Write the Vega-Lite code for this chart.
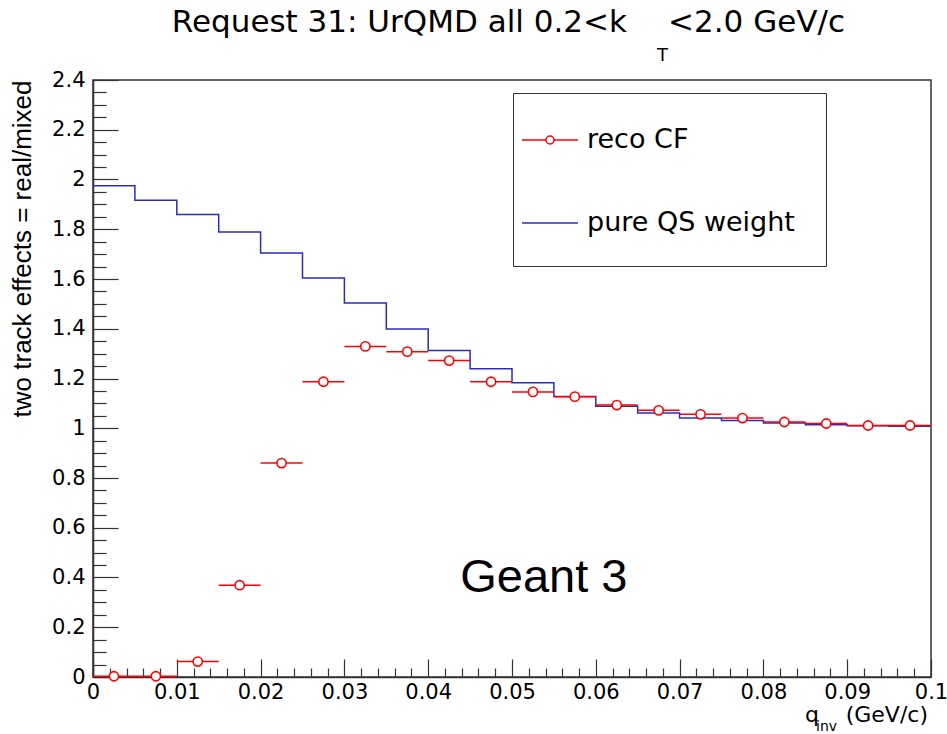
{
  "$schema": "https://vega.github.io/schema/vega-lite/v6.json",
  "width": 838,
  "height": 597,
  "autosize": "none",
  "padding": {"left": 93, "top": 80, "right": 16, "bottom": 57},
  "background": "white",
  "config": {"view": {"stroke": "#333", "strokeWidth": 1.5}, "font": "DejaVu Sans"},
  "data": {"values": [{}]},
  "datasets": {
    "qs": [
      {"q": 0, "v": 1.975}, {"q": 0.005, "v": 1.917}, {"q": 0.01, "v": 1.859}, {"q": 0.015, "v": 1.789},
      {"q": 0.02, "v": 1.705}, {"q": 0.025, "v": 1.604}, {"q": 0.03, "v": 1.504}, {"q": 0.035, "v": 1.399},
      {"q": 0.04, "v": 1.313}, {"q": 0.045, "v": 1.239}, {"q": 0.05, "v": 1.183}, {"q": 0.055, "v": 1.128},
      {"q": 0.06, "v": 1.088}, {"q": 0.065, "v": 1.061}, {"q": 0.07, "v": 1.041}, {"q": 0.075, "v": 1.031},
      {"q": 0.08, "v": 1.021}, {"q": 0.085, "v": 1.014}, {"q": 0.09, "v": 1.01}, {"q": 0.095, "v": 1.008},
      {"q": 0.1, "v": 1.008}
    ],
    "reco": [
      {"q": 0.0025, "v": 0.003, "ex": 0.0025}, {"q": 0.0075, "v": 0.003, "ex": 0.0025},
      {"q": 0.0125, "v": 0.062, "ex": 0.0025}, {"q": 0.0175, "v": 0.369, "ex": 0.0025},
      {"q": 0.0225, "v": 0.86, "ex": 0.0025}, {"q": 0.0275, "v": 1.187, "ex": 0.0025},
      {"q": 0.0325, "v": 1.329, "ex": 0.0025}, {"q": 0.0375, "v": 1.308, "ex": 0.0025},
      {"q": 0.0425, "v": 1.272, "ex": 0.0025}, {"q": 0.0475, "v": 1.187, "ex": 0.0025},
      {"q": 0.0525, "v": 1.146, "ex": 0.0025}, {"q": 0.0575, "v": 1.127, "ex": 0.0025},
      {"q": 0.0625, "v": 1.093, "ex": 0.0025}, {"q": 0.0675, "v": 1.072, "ex": 0.0025},
      {"q": 0.0725, "v": 1.056, "ex": 0.0025}, {"q": 0.0775, "v": 1.041, "ex": 0.0025},
      {"q": 0.0825, "v": 1.025, "ex": 0.0025}, {"q": 0.0875, "v": 1.019, "ex": 0.0025},
      {"q": 0.0925, "v": 1.011, "ex": 0.0025}, {"q": 0.0975, "v": 1.011, "ex": 0.0025}
    ]
  },
  "resolve": {"axis": {"x": "independent", "y": "independent"}},
  "layer": [
    {
      "data": {"name": "qs"},
      "mark": {"type": "line", "interpolate": "step-after", "strokeWidth": 1.5},
      "encoding": {
        "x": {
          "field": "q", "type": "quantitative",
          "scale": {"domain": [0, 0.1], "nice": false, "zero": false},
          "axis": {
            "orient": "bottom",
            "values": [0,0.01,0.02,0.03,0.04,0.05,0.06,0.07,0.08,0.09,0.1],
            "format": "~g",
            "ticks": false, "tickSize": 0,
            "labelFont": "DejaVu Sans", "labelFontSize": 21, "labelColor": "black", "labelPadding": 4,
            "labelOverlap": false, "labelFlush": false, "labelBound": false,
            "title": null, "grid": false,
            "domainColor": "#333", "domainWidth": 1.5
          }
        },
        "y": {
          "field": "v", "type": "quantitative",
          "scale": {"domain": [0, 2.4], "nice": false, "zero": false},
          "axis": {
            "orient": "left",
            "values": [0,0.2,0.4,0.6,0.8,1,1.2,1.4,1.6,1.8,2,2.2,2.4],
            "format": "~g",
            "ticks": false, "tickSize": 0,
            "labelFont": "DejaVu Sans", "labelFontSize": 21, "labelColor": "black", "labelPadding": 8,
            "labelOverlap": false, "labelFlush": false, "labelBound": false,
            "title": "two track effects = real/mixed",
            "titleFont": "Liberation Sans", "titleFontSize": 26, "titleFontWeight": "normal", "titleColor": "black",
            "titleX": -71, "titleY": 0, "titleAngle": 270, "titleAlign": "right", "titleBaseline": "middle",
            "grid": false,
            "domainColor": "#333", "domainWidth": 1.5
          }
        },
        "color": {
          "datum": "pure QS weight", "type": "nominal",
          "scale": {"domain": ["reco CF", "pure QS weight"], "range": ["#ff0000", "#2b2bc0"]},
          "legend": {
            "orient": "none", "legendX": 420, "legendY": 13, "title": null,
            "padding": 11, "symbolSize": 4970, "symbolStrokeWidth": 1.5, "symbolOffset": -10,
            "labelOffset": 1, "rowPadding": 7, "labelLimit": 400,
            "labelFont": "DejaVu Sans", "labelFontSize": 27, "labelColor": "black",
            "strokeColor": "#333", "fillColor": "white",
            "encode": {
              "symbols": {
                "update": {
                  "shape": {"signal": "datum.value === 'reco CF' ? 'M0,-1.142M0,0.8M7.43,0M-0.794,0H-0.113M0.113,0H0.794M0.113,0A0.113,0.113,0,1,1,-0.113,0A0.113,0.113,0,1,1,0.113,0' : 'M0,-1.142M0,0.8M7.43,0M-0.794,0H0.794'"},
                  "fill": {"value": "transparent"},
                  "stroke": {"signal": "datum.value === 'reco CF' ? '#ff0000' : '#2b2bc0'"},
                  "strokeWidth": {"value": 1.5}
                }
              }
            }
          }
        }
      }
    },
    {
      "data": {"name": "reco"},
      "mark": {"type": "errorbar", "ticks": false, "thickness": 1.5},
      "encoding": {
        "x": {
          "field": "q", "type": "quantitative",
          "axis": {
            "orient": "top", "offset": -597,
            "values": [0,0.002,0.004,0.006,0.008,0.012,0.014,0.016,0.018,0.022,0.024,0.026,0.028,0.032,0.034,0.036,0.038,0.042,0.044,0.046,0.048,0.052,0.054,0.056,0.058,0.062,0.064,0.066,0.068,0.072,0.074,0.076,0.078,0.082,0.084,0.086,0.088,0.092,0.094,0.096,0.098],
            "tickSize": 9, "labels": false, "domain": false, "title": null, "grid": false,
            "tickColor": "#333", "tickWidth": 1.2
          }
        },
        "xError": {"field": "ex"},
        "y": {
          "field": "v", "type": "quantitative",
          "axis": {
            "orient": "right", "offset": -838,
            "values": [0.05,0.1,0.15,0.25,0.3,0.35,0.45,0.5,0.55,0.65,0.7,0.75,0.85,0.9,0.95,1.05,1.1,1.15,1.25,1.3,1.35,1.45,1.5,1.55,1.65,1.7,1.75,1.85,1.9,1.95,2.05,2.1,2.15,2.25,2.3,2.35],
            "tickSize": 13, "labels": false, "domain": false, "title": null, "grid": false,
            "tickColor": "#333", "tickWidth": 1.2
          }
        },
        "color": {"datum": "reco CF", "type": "nominal"}
      }
    },
    {
      "data": {"name": "reco"},
      "mark": {"type": "point", "shape": "circle", "size": 85, "strokeWidth": 1.6, "filled": false, "fill": "white", "fillOpacity": 1, "opacity": 1},
      "encoding": {
        "x": {
          "field": "q", "type": "quantitative",
          "axis": {
            "orient": "top", "offset": -597,
            "values": [0,0.01,0.02,0.03,0.04,0.05,0.06,0.07,0.08,0.09,0.1],
            "tickSize": 18, "labels": false, "domain": false, "title": null, "grid": false,
            "tickColor": "#333", "tickWidth": 1.2
          }
        },
        "y": {
          "field": "v", "type": "quantitative",
          "axis": {
            "orient": "right", "offset": -838,
            "values": [0,0.2,0.4,0.6,0.8,1,1.2,1.4,1.6,1.8,2,2.2,2.4],
            "tickSize": 25, "labels": false, "domain": false, "title": null, "grid": false,
            "tickColor": "#333", "tickWidth": 1.2
          }
        },
        "color": {"datum": "reco CF", "type": "nominal"}
      }
    },
    {
      "mark": {"type": "text", "text": "Request 31: UrQMD all 0.2<k", "font": "DejaVu Sans", "fontSize": 31, "align": "right", "baseline": "alphabetic", "dy": -48, "color": "black"},
      "encoding": {"x": {"datum": 0.06372, "axis": null}, "y": {"datum": 2.4, "axis": null}}
    },
    {
      "mark": {"type": "text", "text": "T", "font": "DejaVu Sans", "fontSize": 18, "align": "left", "baseline": "alphabetic", "dy": -19, "color": "black"},
      "encoding": {"x": {"datum": 0.0673, "axis": null}, "y": {"datum": 2.4, "axis": null}}
    },
    {
      "mark": {"type": "text", "text": "<2.0 GeV/c", "font": "DejaVu Sans", "fontSize": 31, "align": "left", "baseline": "alphabetic", "dy": -48, "color": "black"},
      "encoding": {"x": {"datum": 0.06862, "axis": null}, "y": {"datum": 2.4, "axis": null}}
    },
    {
      "mark": {"type": "text", "text": "Geant 3", "font": "Liberation Sans", "fontSize": 47, "align": "center", "baseline": "alphabetic", "color": "black"},
      "encoding": {"x": {"datum": 0.0538, "axis": null}, "y": {"datum": 0.342, "axis": null}}
    },
    {
      "mark": {"type": "text", "text": "q", "font": "DejaVu Sans", "fontSize": 22, "align": "left", "baseline": "alphabetic", "dy": 45, "color": "black"},
      "encoding": {"x": {"datum": 0.08497, "axis": null}, "y": {"datum": 0, "axis": null}}
    },
    {
      "mark": {"type": "text", "text": "inv", "font": "DejaVu Sans", "fontSize": 14, "align": "left", "baseline": "alphabetic", "dy": 54, "color": "black"},
      "encoding": {"x": {"datum": 0.08628, "axis": null}, "y": {"datum": 0, "axis": null}}
    },
    {
      "mark": {"type": "text", "text": "(GeV/c)", "font": "DejaVu Sans", "fontSize": 22, "align": "right", "baseline": "alphabetic", "dy": 45, "color": "black"},
      "encoding": {"x": {"datum": 0.09964, "axis": null}, "y": {"datum": 0, "axis": null}}
    }
  ]
}
